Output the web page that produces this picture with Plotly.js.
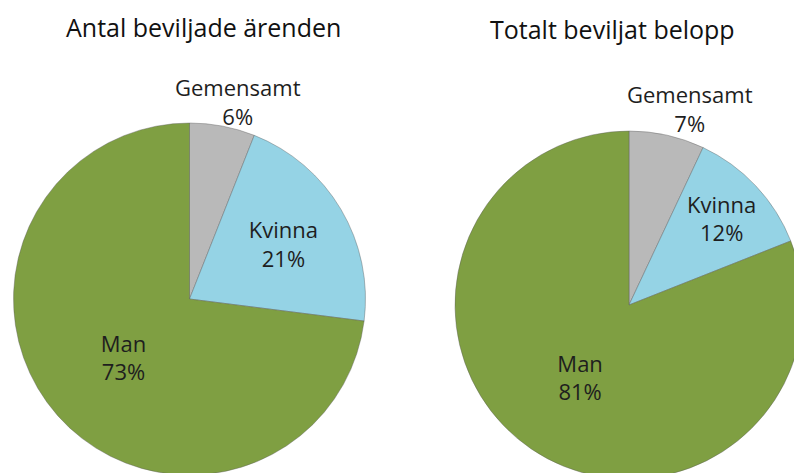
<!DOCTYPE html>
<html>
<head>
<meta charset="utf-8">
<script src="https://cdn.plot.ly/plotly-3.0.1.min.js"></script>
<style>
html, body { margin: 0; padding: 0; overflow: hidden; background: #ffffff; width: 794px; height: 473px; }
#chart { width: 810px; height: 485px; }
</style>
</head>
<body>
<div id="chart"></div>
<script>
var categories = ["Gemensamt", "Kvinna", "Man"];
var arendenValues = [6, 21, 73];
var beloppValues = [7, 12, 81];
var chartTitles = ["Antal beviljade ärenden", "Totalt beviljat belopp"];

var sliceColors = ["#b9b9b9", "#95d3e5", "#7f9f42"];
var fontFamily = "'Open Sans', 'Noto Sans', sans-serif";
var textColor = "#1e1e1e";
var W = 810, H = 485;

function pieTrace(values, cx, cy, r) {
  return {
    type: "pie",
    labels: categories,
    values: values,
    sort: false,
    direction: "clockwise",
    rotation: 0,
    textinfo: "label+percent",
    textposition: ["none", "inside", "inside"],
    insidetextorientation: "horizontal",
    textfont: { family: fontFamily, size: 22, color: textColor },
    insidetextfont: { family: fontFamily, size: 22, color: textColor },
    marker: { colors: sliceColors, line: { color: "rgba(90,90,90,0.4)", width: 1 } },
    hoverinfo: "skip",
    showlegend: false,
    automargin: false,
    domain: {
      x: [(cx - r) / W, (cx + r) / W],
      y: [(H - cy - r) / H, (H - cy + r) / H]
    }
  };
}

function pctText(values, i) {
  var s = values.reduce(function (a, b) { return a + b; }, 0);
  return categories[i] + "<br>" + Math.round(100 * values[i] / s) + "%";
}

var data = [
  pieTrace(arendenValues, 189.5, 299, 176),
  pieTrace(beloppValues, 629, 305, 174)
];

function labelAnn(text, x, y) {
  return { text: text, x: x / W, y: (H - y) / H, xref: "paper", yref: "paper",
    xanchor: "center", yanchor: "middle", showarrow: false, align: "center",
    font: { family: fontFamily, size: 22, color: textColor } };
}

function titleAnn(text, x, y) {
  return { text: text, x: x / W, y: (H - y) / H, xref: "paper", yref: "paper",
    xanchor: "center", yanchor: "middle", showarrow: false,
    font: { family: fontFamily, size: 25, color: "#111111" } };
}

var layout = {
  width: W,
  height: H,
  margin: { l: 0, r: 0, t: 0, b: 0 },
  paper_bgcolor: "#ffffff",
  plot_bgcolor: "#ffffff",
  showlegend: false,
  annotations: [
    titleAnn(chartTitles[0], 203, 27),
    titleAnn(chartTitles[1], 612, 29),
    labelAnn(pctText(arendenValues, 0), 238, 101),
    labelAnn(pctText(beloppValues, 0), 690, 109)
  ]
};

Plotly.newPlot("chart", data, layout, { displayModeBar: false, staticPlot: true });
</script>
</body>
</html>
